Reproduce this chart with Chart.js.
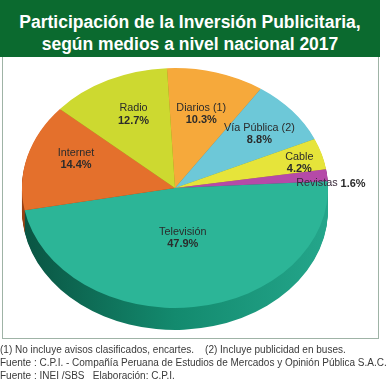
<!DOCTYPE html>
<html>
<head>
<meta charset="utf-8">
<script src="https://cdn.jsdelivr.net/npm/chart.js@4/dist/chart.umd.min.js"></script>
<style>
  html, body { margin: 0; padding: 0; background: #fff; }
  #wrap { position: relative; width: 388px; height: 389px; overflow: hidden; font-family: 'Liberation Sans', Arial, sans-serif; }
  #title {
    position: absolute; left: 0; top: 0; width: 380px; height: 57px;
    background: #0b6a2f; color: #fff; text-align: center;
    font-weight: bold; font-size: 17.5px; line-height: 22px; padding-top: 11px; box-sizing: border-box;
  }
  #box { position: absolute; left: 2px; top: 57px; width: 377px; height: 282px; border: 1px solid #9fb3a6; border-top: none; box-sizing: border-box; }
  #chart { position: absolute; left: 0; top: 0; }
  #notes { position: absolute; left: 0; top: 344px; font-size: 10px; line-height: 12.8px; color: #3a3a3a; white-space: pre; }
</style>
</head>
<body>
<div id="wrap">
  <div id="title">Participación de la Inversión Publicitaria,<br>según medios a nivel nacional 2017</div>
  <div id="box"></div>
  <canvas id="chart" width="388" height="389"></canvas>
  <div id="notes">(1) No incluye avisos clasificados, encartes.    (2) Incluye publicidad en buses.
Fuente : C.P.I. - Compañía Peruana de Estudios de Mercados y Opinión Pública S.A.C.
Fuente : INEI /SBS   Elaboración: C.P.I.</div>
</div>
<script>
// ── Datos ─────────────────────────────────────────────────────
const medios   = ['Diarios (1)', 'Vía Pública (2)', 'Cable', 'Revistas', 'Televisión', 'Internet', 'Radio'];
const valores  = [10.3, 8.8, 4.2, 1.6, 47.9, 14.4, 12.7];
const colores  = ['#f6a93b', '#6dc8d8', '#e6e43a', '#b54aa8', '#2cb597', '#e4702c', '#cdd930'];
const laterales = ['#a86d1e', '#3b8d9a', '#9c9a1e', '#7a2d72', '#13876c', '#9c4415', '#8a9418'];

// posición de etiquetas: fracción del radio y giro (grados)
const labelFrac  = [0.64, 0.71, 0.84, 1.0, 0.42, 0.69, 0.67];
const labelShift = [0, 1, 2, 4, 0, 5, 2];

const TILT  = 0.784; // aplanado vertical
const DEPTH = 22;    // grosor del "3D"
const TV    = 4;

// ── Plugin: pastel inclinado con canto ───────────────────────
const pie3d = {
  id: 'pie3d',
  beforeDatasetsDraw(chart) {
    const ctx  = chart.ctx;
    const meta = chart.getDatasetMeta(0);
    const cx = meta.data[0].x, cy = meta.data[0].y;
    const r  = meta.data[0].outerRadius;

    const grad = ctx.createLinearGradient(-r, 0, r, 0);
    grad.addColorStop(0, '#0a5442');
    grad.addColorStop(0.5, '#138a6e');
    grad.addColorStop(1, '#24a68b');

    for (let d = DEPTH; d > 0; d--) {
      meta.data.forEach((arc, i) => {
        ctx.save();
        ctx.translate(cx, cy + d);
        ctx.scale(1, TILT);
        ctx.beginPath();
        ctx.moveTo(0, 0);
        ctx.arc(0, 0, arc.outerRadius, arc.startAngle, arc.endAngle);
        ctx.closePath();
        ctx.fillStyle = i === TV ? grad : laterales[i];
        ctx.fill();
        ctx.restore();
      });
    }

    ctx.save();
    ctx.translate(cx, cy);
    ctx.scale(1, TILT);
    ctx.translate(-cx, -cy);
  },
  afterDatasetsDraw(chart) {
    const ctx = chart.ctx;
    ctx.restore();

    const meta = chart.getDatasetMeta(0);
    ctx.save();
    ctx.fillStyle = '#2b2b2b';
    ctx.textBaseline = 'middle';
    meta.data.forEach((arc, i) => {
      const mid = (arc.startAngle + arc.endAngle) / 2 + labelShift[i] * Math.PI / 180;
      const rr  = arc.outerRadius * labelFrac[i];
      const px  = arc.x + Math.cos(mid) * rr;
      const py  = arc.y + Math.sin(mid) * rr * TILT;
      const pct = valores[i].toFixed(1) + '%';
      const nameFont = "10.8px 'Liberation Sans', Arial, sans-serif";
      const valFont  = "bold 11px 'Liberation Sans', Arial, sans-serif";

      if (i === 3) {
        // Revistas en una sola línea
        ctx.font = nameFont;
        const w1 = ctx.measureText(medios[i] + ' ').width;
        ctx.font = valFont;
        const w2 = ctx.measureText(pct).width;
        const x0 = px - (w1 + w2) / 2 + 3;
        ctx.textAlign = 'left';
        ctx.font = nameFont;
        ctx.fillStyle = '#3a2a3a';
        ctx.fillText(medios[i], x0, py);
        ctx.font = valFont;
        ctx.fillStyle = '#2b2b2b';
        ctx.fillText(pct, x0 + w1, py);
      } else {
        ctx.textAlign = 'center';
        ctx.font = nameFont;
        ctx.fillText(medios[i], px, py - 6);
        ctx.font = valFont;
        ctx.fillText(pct, px, py + 6);
      }
    });
    ctx.restore();
  }
};

// ── Gráfica ───────────────────────────────────────────────────
new Chart(document.getElementById('chart'), {
  type: 'pie',
  data: {
    labels: medios,
    datasets: [{
      data: valores,
      backgroundColor: colores,
      borderWidth: 0,
    }],
  },
  options: {
    responsive: false,
    animation: false,
    rotation: -3,
    layout: { padding: { left: 22, right: 60, top: 35, bottom: 48 } },
    plugins: {
      legend: { display: false },
      tooltip: { enabled: false },
    },
  },
  plugins: [pie3d],
});
</script>
</body>
</html>
